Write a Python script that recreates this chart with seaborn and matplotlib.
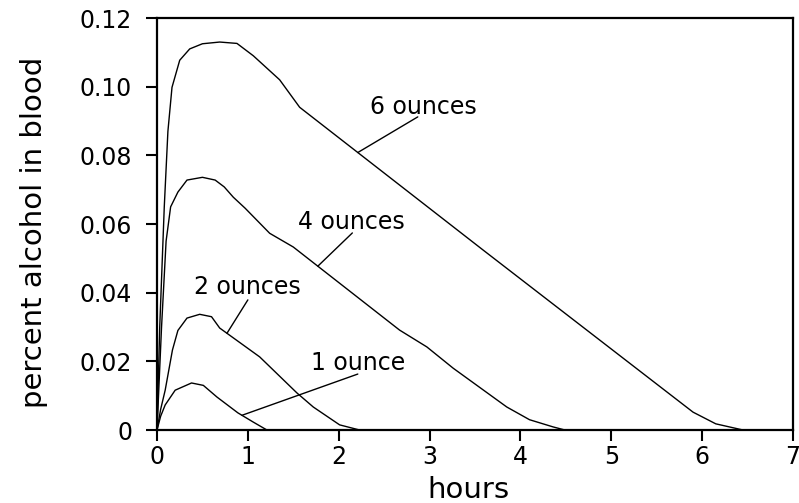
import numpy as np
import pandas as pd
import matplotlib
matplotlib.use("Agg")
import matplotlib.pyplot as plt
import seaborn as sns

# Blood alcohol curves
hours_1oz = [0, 0.04, 0.09, 0.2, 0.38, 0.51, 0.66, 0.89, 1.06, 1.21]
bac_1oz = [0, 0.004, 0.0073, 0.0116, 0.0137, 0.013, 0.0096, 0.005, 0.0023, 0]

hours_2oz = [0, 0.04, 0.09, 0.17, 0.23, 0.33, 0.47, 0.6, 0.69, 1.13, 1.54, 1.72, 2.01, 2.23]
bac_2oz = [0, 0.006, 0.0116, 0.0233, 0.029, 0.0326, 0.0337, 0.033, 0.0297, 0.0213,
           0.0108, 0.0067, 0.0015, 0]

hours_4oz = [0, 0.05, 0.1, 0.15, 0.23, 0.33, 0.5, 0.64, 0.74, 0.84, 0.97, 1.24, 1.5,
             2.67, 2.97, 3.26, 3.85, 4.1, 4.36, 4.49]
bac_4oz = [0, 0.03, 0.055, 0.065, 0.0693, 0.0728, 0.0736, 0.0728, 0.0708, 0.0678, 0.0646,
           0.0573, 0.0533, 0.0291, 0.0242, 0.018, 0.0067, 0.003, 0.0009, 0]

hours_6oz = [0, 0.03, 0.08, 0.12, 0.165, 0.25, 0.36, 0.5, 0.69, 0.88, 1.06, 1.35,
             1.57, 3.59, 5.9, 6.15, 6.45]
bac_6oz = [0, 0.03, 0.065, 0.087, 0.0998, 0.1077, 0.111, 0.1125, 0.113, 0.1126,
           0.109, 0.102, 0.094, 0.0524, 0.0052, 0.0018, 0]

dose_labels = ["1 ounce", "2 ounces", "4 ounces", "6 ounces"]
x_ticks = [0, 1, 2, 3, 4, 5, 6, 7]
y_ticks = [0, 0.02, 0.04, 0.06, 0.08, 0.10, 0.12]
y_tick_labels = ["0", "0.02", "0.04", "0.06", "0.08", "0.10", "0.12"]

curves = {
    "1 ounce": (hours_1oz, bac_1oz),
    "2 ounces": (hours_2oz, bac_2oz),
    "4 ounces": (hours_4oz, bac_4oz),
    "6 ounces": (hours_6oz, bac_6oz),
}

df = pd.concat(
    [pd.DataFrame({"hours": h, "bac": b, "dose": name}) for name, (h, b) in curves.items()],
    ignore_index=True,
)

sns.set_theme(style="ticks")
plt.rcParams["font.family"] = ["DejaVu Sans"]

fig = plt.figure(figsize=(7.99, 5.03), dpi=100)
ax = fig.add_axes([0.1965, 0.1451, 0.796, 0.8191])

sns.lineplot(
    data=df, x="hours", y="bac", hue="dose", hue_order=dose_labels,
    palette=["black"] * 4, linewidth=1.0, legend=False, ax=ax, estimator=None,
)

ax.set_xlim(0, 7)
ax.set_ylim(0, 0.12)
ax.set_xticks(x_ticks)
ax.set_xticklabels([str(t) for t in x_ticks])
ax.set_yticks(y_ticks)
ax.set_yticklabels(y_tick_labels)
ax.tick_params(axis="both", direction="out", length=8, width=1.5,
               labelsize=17, colors="black")
ax.tick_params(axis="x", pad=3)
ax.tick_params(axis="y", pad=10)
for side in ["left", "right", "top", "bottom"]:
    ax.spines[side].set_visible(True)
    ax.spines[side].set_linewidth(1.6)
    ax.spines[side].set_color("black")

ax.set_xlabel("hours", fontsize=21, color="black")
ax.set_ylabel("percent alcohol in blood", fontsize=21, color="black")
ax.xaxis.set_label_coords(0.49, -0.112)
ax.yaxis.set_label_coords(-0.172, 0.48)

# Curve labels with leader lines (leader starts on the curve)
label_spots = {
    "6 ounces": (2.21, 2.87, 0.0912, 2.93, 0.0941),
    "4 ounces": (1.77, 2.15, 0.0574, 2.14, 0.0606),
    "2 ounces": (0.77, 1.00, 0.0379, 0.997, 0.0416),
    "1 ounce": (0.935, 2.21, 0.0163, 2.21, 0.0195),
}
for name, (x0, x1, y1, tx, ty) in label_spots.items():
    h, b = curves[name]
    y0 = np.interp(x0, h, b)
    ax.plot([x0, x1], [y0, y1], color="black", linewidth=1.0)
    ax.text(tx, ty, name, fontsize=17, ha="center", va="center", color="black")

fig.savefig("out.png", dpi=100)
